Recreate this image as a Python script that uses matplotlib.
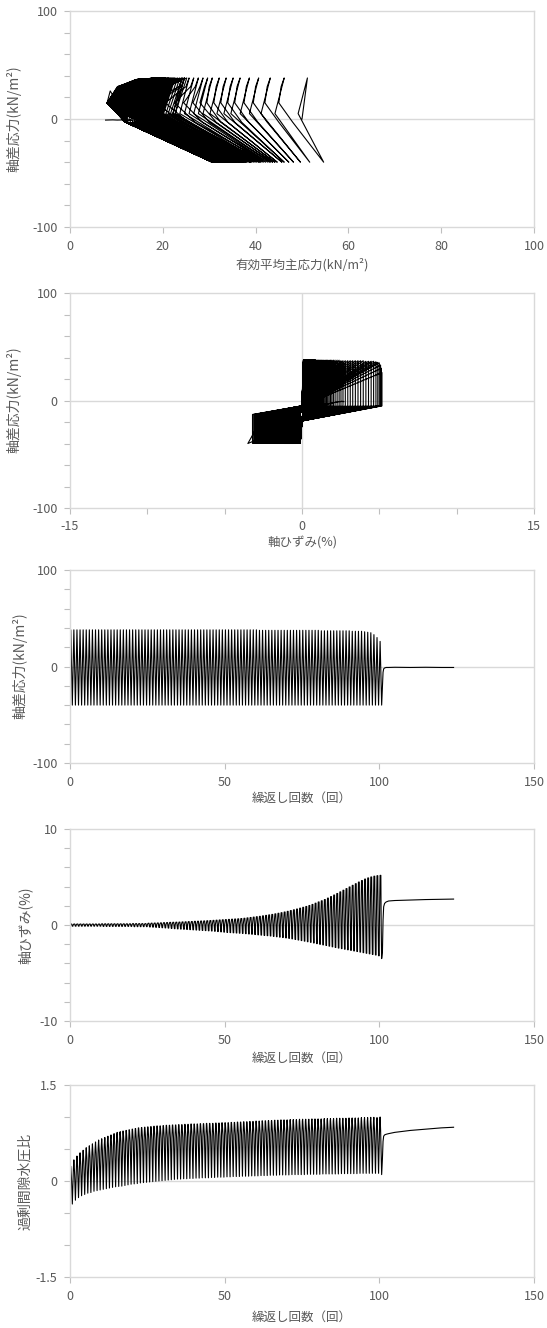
import numpy as np
import matplotlib
matplotlib.use("Agg")
import matplotlib.pyplot as plt
from matplotlib.ticker import MultipleLocator

plt.rcParams['font.family'] = ['Noto Sans CJK JP', 'DejaVu Sans']

# ---- data (per loading cycle k = 0..100) ----
SIGMA0 = 50.0      # initial effective confining pressure (kN/m2)
Q_BOT = -40.0      # deviator stress at extension peaks (kN/m2)

q_top = [38.0] * 61 + [37.5] * 20 + [37.0] * 10 + [36.5] * 4 + [36.0, 35.5, 35.0, 33.0, 30.0, 26.0]

eps_max = [0.10] * 10 + [0.12] * 10 + [0.14] * 5 + [
    0.18, 0.19, 0.20, 0.21, 0.22,
    0.24, 0.25, 0.27, 0.28, 0.29, 0.30, 0.32, 0.33, 0.35, 0.36,
    0.38, 0.39, 0.41, 0.42, 0.44, 0.46, 0.48, 0.50, 0.52, 0.54,
    0.56, 0.58, 0.60, 0.62, 0.64, 0.67, 0.70, 0.74, 0.78, 0.82,
    0.86, 0.90, 0.95, 1.00, 1.05, 1.10, 1.16, 1.22, 1.28, 1.35,
    1.42, 1.50, 1.58, 1.66, 1.75, 1.84, 1.93, 2.03, 2.14, 2.27,
    2.40, 2.52, 2.65, 2.80, 2.96, 3.12, 3.28, 3.45, 3.62, 3.79,
    3.96, 4.13, 4.30, 4.47, 4.63, 4.78, 4.90, 5.00, 5.08, 5.13, 5.17]

eps_min = [-0.12] * 10 + [-0.14] * 10 + [-0.17] * 5 + [
    -0.20, -0.22, -0.24, -0.26, -0.28,
    -0.30, -0.32, -0.35, -0.38, -0.40, -0.42, -0.44, -0.46, -0.48, -0.50,
    -0.52, -0.54, -0.56, -0.58, -0.60, -0.62, -0.65, -0.68, -0.71, -0.74,
    -0.77, -0.79, -0.81, -0.83, -0.85, -0.87, -0.90, -0.93, -0.96, -0.99,
    -1.02, -1.05, -1.08, -1.11, -1.14, -1.18, -1.22, -1.26, -1.30, -1.34,
    -1.39, -1.44, -1.50, -1.56, -1.62, -1.68, -1.74, -1.80, -1.87, -1.94,
    -2.01, -2.07, -2.13, -2.20, -2.27, -2.34, -2.40, -2.46, -2.52, -2.58,
    -2.64, -2.70, -2.76, -2.82, -2.88, -2.94, -3.00, -3.06, -3.12, -3.20, -3.50]

# excess pore water pressure ratio at compression peak / extension peak
r_top = [
    0.23, 0.33, 0.39, 0.44, 0.48, 0.52, 0.55, 0.58, 0.61, 0.64,
    0.66, 0.68, 0.70, 0.72, 0.74, 0.76, 0.77, 0.75, 0.76, 0.77,
    0.78, 0.79, 0.80, 0.805, 0.81, 0.815, 0.82, 0.825, 0.83, 0.83,
    0.835, 0.84, 0.84, 0.845, 0.845, 0.85, 0.85, 0.855, 0.855, 0.86,
    0.86, 0.86, 0.865, 0.865, 0.87, 0.87, 0.87, 0.875, 0.875, 0.88,
    0.88, 0.88, 0.885, 0.885, 0.89, 0.89, 0.895, 0.895, 0.90, 0.90,
    0.905, 0.905, 0.91, 0.91, 0.915, 0.915, 0.92, 0.92, 0.925, 0.925,
    0.925, 0.93, 0.93, 0.93, 0.935, 0.935, 0.935, 0.935, 0.94, 0.94,
    0.94, 0.94, 0.945, 0.945, 0.945, 0.945, 0.95, 0.95, 0.95, 0.95,
    0.955, 0.955, 0.955, 0.955, 0.96, 0.96, 0.96, 0.965, 0.965, 0.99, 1.0]

r_bot = [
    -0.36, -0.30, -0.26, -0.23, -0.21, -0.19, -0.18, -0.16, -0.15, -0.14,
    -0.13, -0.12, -0.11, -0.10, -0.09, -0.085, -0.08, -0.07, -0.06, -0.05,
    -0.045, -0.04, -0.03, -0.025, -0.02, -0.015, -0.01, -0.005, 0.0, 0.005,
    0.01, 0.015, 0.02, 0.025, 0.03, 0.03, 0.035, 0.035, 0.04, 0.04,
    0.045, 0.045, 0.05, 0.05, 0.05, 0.055, 0.055, 0.06, 0.06, 0.06,
    0.065, 0.065, 0.07, 0.07, 0.07, 0.075, 0.075, 0.075, 0.08, 0.08,
    0.08, 0.085, 0.085, 0.085, 0.09, 0.09, 0.09, 0.095, 0.095, 0.095,
    0.095, 0.10, 0.10, 0.10, 0.10, 0.10, 0.105, 0.105, 0.105, 0.105,
    0.105, 0.11, 0.11, 0.11, 0.11, 0.11, 0.11, 0.115, 0.115, 0.115,
    0.115, 0.115, 0.115, 0.12, 0.12, 0.12, 0.12, 0.12, 0.12, 0.12, 0.10]

# ratio while unloading from the compression peak (at q = 5)
r_down = [
    0.05, 0.15, 0.21, 0.26, 0.30, 0.34, 0.37, 0.40, 0.43, 0.46,
    0.48, 0.50, 0.52, 0.54, 0.56, 0.58, 0.59, 0.58, 0.59, 0.60,
    0.61, 0.62, 0.63, 0.635, 0.64, 0.645, 0.65, 0.655, 0.66, 0.66,
    0.665, 0.67, 0.67, 0.675, 0.675, 0.68, 0.68, 0.685, 0.685, 0.69,
    0.69, 0.69, 0.695, 0.695, 0.70, 0.70, 0.70, 0.705, 0.705, 0.71,
    0.71, 0.71, 0.715, 0.715, 0.72, 0.72, 0.725, 0.725, 0.73, 0.73,
    0.735, 0.735, 0.74, 0.74, 0.745, 0.745, 0.75, 0.75, 0.755, 0.755,
    0.755, 0.76, 0.76, 0.76, 0.765, 0.765, 0.765, 0.765, 0.77, 0.77,
    0.77, 0.77, 0.775, 0.775, 0.775, 0.775, 0.78, 0.78, 0.78, 0.78,
    0.785, 0.785, 0.785, 0.785, 0.79, 0.79, 0.79, 0.795, 0.795, 0.80, 0.80]

# ratio while reloading towards compression peak k = 1..100 (at q = -3, 15 and 30)
r_up = [
    0.02, 0.08, 0.13, 0.17, 0.21, 0.24, 0.27, 0.30, 0.33, 0.35,
    0.38, 0.41, 0.44, 0.47, 0.50, 0.53, 0.56, 0.59, 0.62, 0.64,
    0.66, 0.68, 0.69, 0.70, 0.71, 0.72, 0.73, 0.735, 0.74, 0.74] + [0.74] * 70

r_knee = [
    0.20, 0.26, 0.31, 0.35, 0.39, 0.42, 0.45, 0.48, 0.51,
    0.54, 0.57, 0.61, 0.65, 0.69, 0.73, 0.76, 0.78, 0.79, 0.80,
    0.81, 0.82, 0.83, 0.835, 0.84, 0.845, 0.85, 0.855, 0.86, 0.86,
    0.865, 0.87, 0.87, 0.875, 0.875, 0.88, 0.88, 0.885, 0.885, 0.89,
    0.89, 0.89, 0.895, 0.895, 0.90, 0.90, 0.90, 0.905, 0.905, 0.91,
    0.91, 0.91, 0.915, 0.915, 0.92, 0.92, 0.925, 0.925, 0.93, 0.93,
    0.935, 0.935] + [0.94] * 39

r_high = [
    0.29, 0.35, 0.40, 0.44, 0.48, 0.51, 0.54, 0.57, 0.60, 0.62,
    0.64, 0.66, 0.68, 0.70, 0.72, 0.73,
    0.78, 0.79, 0.80, 0.81, 0.82, 0.83, 0.835, 0.84, 0.845, 0.85, 0.855, 0.86, 0.86,
    0.865, 0.87, 0.87, 0.875, 0.875, 0.88, 0.88, 0.885, 0.885, 0.89,
    0.89, 0.89, 0.895, 0.895, 0.90, 0.90, 0.90, 0.905, 0.905, 0.91,
    0.91, 0.91, 0.915, 0.915, 0.92, 0.92, 0.925, 0.925, 0.93, 0.93,
    0.935, 0.935, 0.94, 0.94, 0.945, 0.945, 0.95, 0.95, 0.955, 0.955,
    0.955, 0.96, 0.96, 0.96, 0.965, 0.965, 0.965, 0.965, 0.97, 0.97,
    0.97, 0.97, 0.975, 0.975, 0.975, 0.975, 0.98, 0.98, 0.98, 0.98,
    0.985, 0.985, 0.985, 0.985, 0.99, 0.99, 0.99, 0.995, 0.995, 1.0, 1.0]

# after liquefaction
tail_t = [101.0, 101.2, 101.4, 101.7, 102.2, 103.0, 105.0, 110.0, 115.0, 120.0, 124.0]
tail_q = [-22.0, -6.0, -2.5, -1.5, -1.0, -1.0, -0.8, -1.0, -0.8, -1.0, -1.0]
tail_eps = [-2.8, 0.5, 1.9, 2.25, 2.4, 2.5, 2.55, 2.6, 2.65, 2.68, 2.7]
tail_r = [0.35, 0.62, 0.70, 0.72, 0.73, 0.74, 0.76, 0.79, 0.81, 0.83, 0.84]

# deviator stress levels where the loops bend
Q_DOWN, Q_UP, Q_KNEE, Q_HIGH = 5.0, -3.0, 15.0, 30.0
QE_D1, QE_D2, QE_U1, QE_U2 = -5.0, -19.0, -13.0, -5.0


def t_down(k, level):
    return k + 0.25 + 0.5 * (q_top[k] - level) / (q_top[k] - Q_BOT)


def t_up(k, level):
    return k - 0.25 + 0.5 * (level - Q_BOT) / (q_top[k] - Q_BOT)


n = len(q_top)

# deviator stress vs cycles
tq, qq = [0.0], [0.0]
for k in range(n):
    tq += [k + 0.25, k + 0.75]
    qq += [q_top[k], Q_BOT]
tq += tail_t
qq += tail_q

# pore pressure ratio
tr, qr, rr = [0.0], [0.0], [0.0]
for k in range(n):
    if k > 0:
        tr += [t_up(k, Q_UP), t_up(k, Q_KNEE)]
        qr += [Q_UP, Q_KNEE]
        rr += [r_up[k - 1], r_knee[k - 1]]
        if q_top[k] > Q_HIGH + 1:
            tr.append(t_up(k, Q_HIGH))
            qr.append(Q_HIGH)
            rr.append(r_high[k - 1])
    tr += [k + 0.25, t_down(k, Q_DOWN), k + 0.75]
    qr += [q_top[k], Q_DOWN, Q_BOT]
    rr += [r_top[k], r_down[k], r_bot[k]]
tr += tail_t
qr += tail_q
rr += tail_r
tr, qr, rr = np.array(tr), np.array(qr), np.array(rr)
p_eff = SIGMA0 * (1 - rr) + qr / 3.0

# axial strain
te, qe, ee = [0.0], [0.0], [0.0]
for k in range(n):
    if k > 0:
        te += [t_up(k, QE_U1), t_up(k, QE_U2)]
        qe += [QE_U1, QE_U2]
        ee += [eps_min[k - 1], 0.0]
    te += [k + 0.25, t_down(k, QE_D1), t_down(k, QE_D2), k + 0.75]
    qe += [q_top[k], QE_D1, QE_D2, Q_BOT]
    ee += [eps_max[k], eps_max[k], 0.0, eps_min[k]]
te += tail_t
qe += tail_q
ee += tail_eps

# ---- figure ----
W, H = 547, 1328
fig = plt.figure(figsize=(W / 100, H / 100), dpi=100)
GRID = '#d9d9d9'
TXT = '#595959'
LEFT, RIGHT = 70, 534


def make_axes(top, bottom):
    return fig.add_axes([LEFT / W, 1 - bottom / H, (RIGHT - LEFT) / W, (bottom - top) / H])


def style(ax, xlim, ylim, xticks, yticks, xminor, yminor, vline=False):
    ax.set_xlim(xlim)
    ax.set_ylim(ylim)
    ax.set_xticks(xticks)
    ax.set_xticklabels([f'{v:g}' for v in xticks])
    ax.set_yticks(yticks)
    ax.set_yticklabels([f'{v:g}' for v in yticks])
    if xminor:
        ax.xaxis.set_minor_locator(MultipleLocator(xminor))
    if yminor:
        ax.yaxis.set_minor_locator(MultipleLocator(yminor))
    for s in ax.spines.values():
        s.set_color(GRID)
        s.set_linewidth(1.0)
    ax.tick_params(which='both', direction='out', length=4, width=0.8, color='#bfbfbf',
                   labelcolor=TXT, labelsize=9, pad=5)
    ax.axhline(0, color=GRID, lw=1.0, zorder=0)
    if vline:
        ax.axvline(0, color=GRID, lw=1.0, zorder=0)


def labels(xl, xy, yl, yx, ymid):
    fig.text(302 / W, 1 - xy / H, xl, ha='center', va='center', color=TXT, fontsize=9)
    fig.text(yx / W, 1 - ymid / H, yl, ha='center', va='center', color=TXT, fontsize=10,
             rotation=90)


LW = 0.8
QLAB = '軸差応力(kN/m²)'
NLAB = '繰返し回数（回）'

ax1 = make_axes(11, 227)
ax1.plot(p_eff, qr, color='black', lw=LW)
style(ax1, (0, 100), (-100, 100), [0, 20, 40, 60, 80, 100], [-100, 0, 100], None, 20)
labels('有効平均主応力(kN/m²)', 265, QLAB, 14, 119)

ax2 = make_axes(293, 508)
ax2.plot(ee, qe, color='black', lw=LW)
style(ax2, (-15, 15), (-100, 100), [-15, 0, 15], [-100, 0, 100], 5, 20, vline=True)
labels('軸ひずみ(%)', 543, QLAB, 14, 400)

ax3 = make_axes(570, 763)
ax3.plot(tq, qq, color='black', lw=LW)
style(ax3, (0, 150), (-100, 100), [0, 50, 100, 150], [-100, 0, 100], None, 20)
labels(NLAB, 798, QLAB, 20, 666)

ax4 = make_axes(829, 1021)
ax4.plot(te, ee, color='black', lw=LW)
style(ax4, (0, 150), (-10, 10), [0, 50, 100, 150], [-10, 0, 10], None, 2)
labels(NLAB, 1058, '軸ひずみ(%)', 25, 925)

ax5 = make_axes(1085, 1277)
ax5.plot(tr, rr, color='black', lw=LW)
style(ax5, (0, 150), (-1.5, 1.5), [0, 50, 100, 150], [-1.5, 0, 1.5], None, 0.5)
labels(NLAB, 1317, '過剰間隙水圧比', 25, 1181)

fig.savefig('out.png', dpi=100, facecolor='white')
